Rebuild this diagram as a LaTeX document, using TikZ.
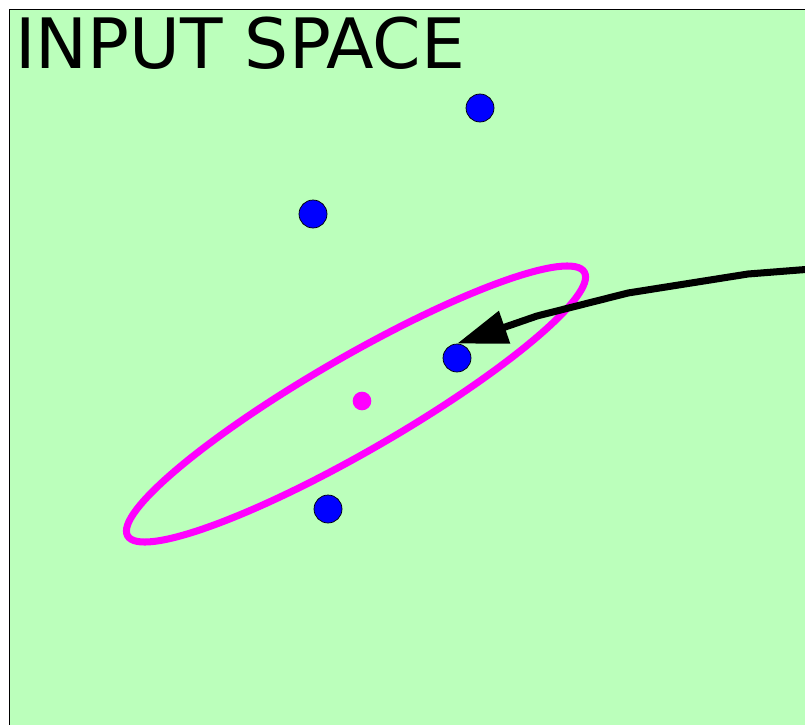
\documentclass[tikz,border=0pt]{standalone}
\usepackage{fontspec}
\usepackage{xcolor}
\usetikzlibrary{arrows.meta,calc,positioning}
\newfontfamily\spacefont{DejaVu Sans}
\definecolor{spacegreen}{HTML}{BBFFBB}
\definecolor{ringmag}{HTML}{FF00FF}

\begin{document}
\begin{tikzpicture}[x=.03cm,y=-.03cm,
  sample/.style={circle,draw=black,line width=.6pt,fill=blue,minimum size=.84cm,inner sep=0pt},
  centre/.style={circle,fill=ringmag,minimum size=.56cm,inner sep=0pt},
  ring/.style={draw=ringmag,line width=6pt},
  flow/.style={line width=6pt,line join=round,-{Triangle[length=43pt,width=28pt]}}]
 \clip (0,0) rectangle (805,725);
 \filldraw[fill=spacegreen,draw=black,line width=.8pt] (9,9) rectangle (840,760);
 \node[anchor=base west,inner sep=0pt,font=\spacefont\fontsize{59.3pt}{61pt}\selectfont] (title) at (15,68) {INPUT SPACE};
 \foreach \n/\x/\y in {1/480/108,2/313/214,3/457/358,4/328/509}{
  \node[sample] (pt\n) at (\x,\y) {};
 }
 \node[centre] (mu) at (362,401) {};
 \coordinate (cen) at (356,404);
 \draw[ring,rotate around={30:(cen)}] (cen) ellipse [x radius=7.91cm,y radius=1.41cm];
 \coordinate (start) at (812,269);
 \draw[flow] (start) -- (748,274) -- (628,293) -- (537,316) -- (pt3.north);
\end{tikzpicture}
\end{document}
